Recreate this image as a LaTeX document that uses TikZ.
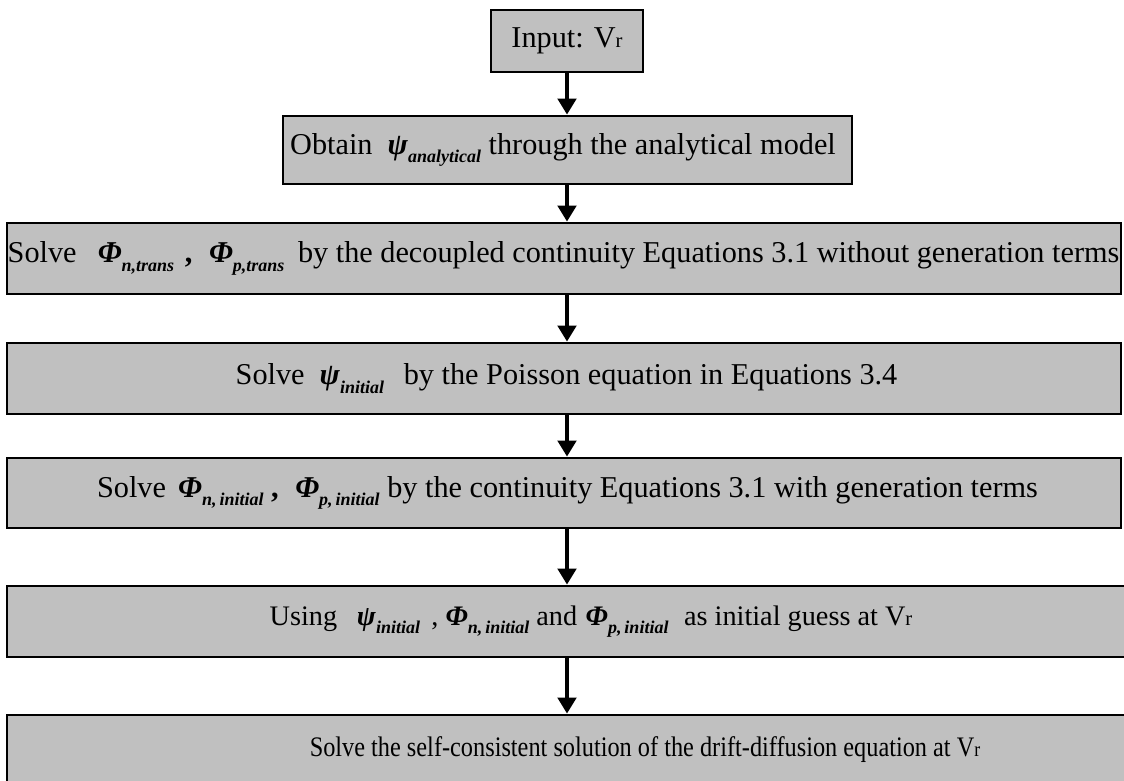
\documentclass[tikz,border=0pt]{standalone}
\usepackage{fontspec}
\setmainfont{Liberation Serif}
\usetikzlibrary{arrows.meta}
\definecolor{boxgray}{HTML}{C0C0C0}
\newcommand{\symsub}[2]{\textbf{\textit{#1}}\raisebox{-0.28em}{\fontsize{13.5}{14}\selectfont\textbf{\textit{#2}}}}
\newcommand{\Vr}{V{\fontsize{15.5}{16}\selectfont r}}
\tikzset{
  x=0.75pt, y=-0.75pt,
  flowbox/.style={draw=black, line width=2.2pt, fill=boxgray, inner sep=0pt},
  flowtext/.style={inner sep=0pt, font=\fontsize{22.7}{26}\selectfont},
  flowtextsmall/.style={inner sep=0pt, font=\fontsize{21.2}{25}\selectfont},
  flowarrow/.style={line width=2.3pt, -{Triangle[width=14pt,length=12pt]}}
}
\begin{document}
\begin{tikzpicture}
\useasboundingbox (0,0) rectangle (1124,781);
% boxes
\node[flowbox, minimum width=114pt, minimum height=46.5pt] (b1) at (567,41) {};
\node[flowbox, minimum width=426.75pt, minimum height=51pt] (b2) at (567.5,150) {};
\node[flowbox, minimum width=835.5pt, minimum height=53.25pt] (b3) at (564,258.5) {};
\node[flowbox, minimum width=835.5pt, minimum height=53.25pt] (b4) at (564,378.5) {};
\node[flowbox, minimum width=835.5pt, minimum height=52.5pt] (b5) at (564,493) {};
\node[flowbox, minimum width=849.75pt, minimum height=53.25pt] (b6) at (573.5,621.5) {};
\node[flowbox, minimum width=849.75pt, minimum height=60pt] (b7) at (573.5,755) {};
% texts
\node[flowtext] (t1) at (567,41) {Input: \Vr};
\node[flowtext] (t2) at (563,150) {Obtain\hspace{0.5em}\symsub{ψ}{analytical} through the analytical model};
\node[flowtext] (t3) at (563.5,258.5) {Solve\hspace{0.7em}\symsub{Φ}{n,trans}\hspace{0.1em} \textbf{,}\hspace{0.3em} \symsub{Φ}{p,trans}\hspace{0.2em} by the decoupled continuity Equations 3.1 without generation terms};
\node[flowtext] (t4) at (566.5,378.5) {Solve\hspace{0.5em}\symsub{ψ}{initial}\hspace{0.4em} by the Poisson equation in Equations 3.4};
\node[flowtext] (t5) at (567.5,493) {Solve\hspace{0.4em}\symsub{Φ}{n,\,initial} \textbf{,}\hspace{0.3em} \symsub{Φ}{p,\,initial} by the continuity Equations 3.1 with generation terms};
\node[flowtextsmall] (t6) at (591,621.5) {Using\hspace{0.7em}\symsub{ψ}{initial}\hspace{0.4em}, \symsub{Φ}{n,\,initial} and\hspace{0.3em}\symsub{Φ}{p,\,initial}\hspace{0.3em} as initial guess at \Vr};
\node[flowtextsmall] (t7) at (645,750) {\scalebox{0.86}[1]{Solve the self-consistent solution of the drift-diffusion equation at \Vr}};
% arrows
\draw[flowarrow] (b1.south) -- (b1.south |- b2.north);
\draw[flowarrow] (b1.south |- b2.south) -- (b1.south |- b3.north);
\draw[flowarrow] (b1.south |- b3.south) -- (b1.south |- b4.north);
\draw[flowarrow] (b1.south |- b4.south) -- (b1.south |- b5.north);
\draw[flowarrow] (b1.south |- b5.south) -- (b1.south |- b6.north);
\draw[flowarrow] (b1.south |- b6.south) -- (b1.south |- b7.north);
\end{tikzpicture}
\end{document}
